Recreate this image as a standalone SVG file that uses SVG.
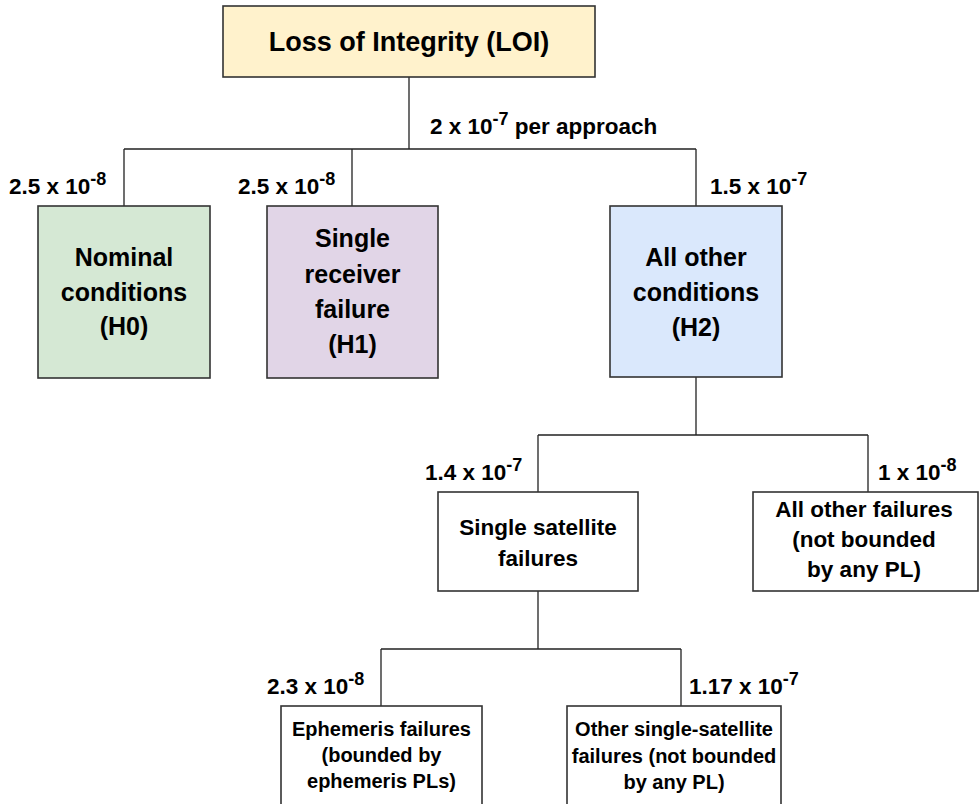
<svg xmlns="http://www.w3.org/2000/svg" width="979" height="804" viewBox="0 0 979 804">
  <style>
    .box { stroke: #333333; stroke-width: 1.6; }
    .plain { fill: #ffffff; }
    .wire { fill: none; stroke: #222222; stroke-width: 1.3; }
    text { font-family: "Liberation Sans", Arial, sans-serif; font-weight: bold; fill: #000000; }
    .title { font-size: 27px; text-anchor: middle; }
    .node { font-size: 25px; text-anchor: middle; }
    .mid { font-size: 22.5px; text-anchor: middle; }
    .small { font-size: 20px; text-anchor: middle; }
    .prob { font-size: 22.5px; }
    .sup { font-size: 18px; }
  </style>
  <rect width="979" height="804" fill="#ffffff"/>

  <!-- connectors -->
  <g id="connectors" class="wire">
    <path d="M409 77 V149 M124 149 H696 M124 149 V206 M352 149 V206 M696 149 V206"/>
    <path d="M696 377 V435 M538 435 H868 M538 435 V492 M868 435 V492"/>
    <path d="M538 591 V649 M381 649 H681 M381 649 V706 M681 649 V706"/>
  </g>

  <!-- probability labels -->
  <g id="labels">
    <text class="prob" x="430" y="134">2 x 10<tspan class="sup" dy="-9">-7</tspan><tspan dy="9"> per approach</tspan></text>
    <text class="prob" x="9" y="194">2.5 x 10<tspan class="sup" dy="-9">-8</tspan></text>
    <text class="prob" x="238" y="194">2.5 x 10<tspan class="sup" dy="-9">-8</tspan></text>
    <text class="prob" x="710" y="194">1.5 x 10<tspan class="sup" dy="-9">-7</tspan></text>
    <text class="prob" x="425" y="480">1.4 x 10<tspan class="sup" dy="-9">-7</tspan></text>
    <text class="prob" x="878" y="480">1 x 10<tspan class="sup" dy="-9">-8</tspan></text>
    <text class="prob" x="267" y="694">2.3 x 10<tspan class="sup" dy="-9">-8</tspan></text>
    <text class="prob" x="689" y="694">1.17 x 10<tspan class="sup" dy="-9">-7</tspan></text>
  </g>

  <g id="loi">
    <rect class="box" x="223" y="6" width="372" height="71" fill="#fff2cc"/>
    <text class="title" x="409" y="51">Loss of Integrity (LOI)</text>
  </g>

  <g id="h0">
    <rect class="box" x="38" y="206" width="172" height="172" fill="#d5e8d4"/>
    <text class="node" x="124" y="266">Nominal</text>
    <text class="node" x="124" y="301">conditions</text>
    <text class="node" x="124" y="335">(H0)</text>
  </g>

  <g id="h1">
    <rect class="box" x="267" y="206" width="171" height="172" fill="#e1d5e7"/>
    <text class="node" x="352.5" y="247">Single</text>
    <text class="node" x="352.5" y="283">receiver</text>
    <text class="node" x="352.5" y="318">failure</text>
    <text class="node" x="352.5" y="353">(H1)</text>
  </g>

  <g id="h2">
    <rect class="box" x="610" y="206" width="172" height="171" fill="#dae8fc"/>
    <text class="node" x="696" y="266">All other</text>
    <text class="node" x="696" y="301">conditions</text>
    <text class="node" x="696" y="336">(H2)</text>
  </g>

  <g id="single-satellite">
    <rect class="box plain" x="438" y="492" width="200" height="99"/>
    <text class="mid" x="538" y="535">Single satellite</text>
    <text class="mid" x="538" y="566">failures</text>
  </g>

  <g id="all-other-failures">
    <rect class="box plain" x="753" y="492" width="225" height="99"/>
    <text class="mid" x="864" y="517">All other failures</text>
    <text class="mid" x="864" y="547">(not bounded</text>
    <text class="mid" x="864" y="577">by any PL)</text>
  </g>

  <g id="ephemeris">
    <rect class="box plain" x="281" y="706" width="201" height="120"/>
    <text class="small" x="381.5" y="736">Ephemeris failures</text>
    <text class="small" x="381.5" y="762">(bounded by</text>
    <text class="small" x="381.5" y="788">ephemeris PLs)</text>
  </g>

  <g id="other-single-satellite">
    <rect class="box plain" x="567" y="706" width="214" height="120"/>
    <text class="small" x="674" y="736">Other single-satellite</text>
    <text class="small" x="674" y="763">failures (not bounded</text>
    <text class="small" x="674" y="789">by any PL)</text>
  </g>
</svg>
